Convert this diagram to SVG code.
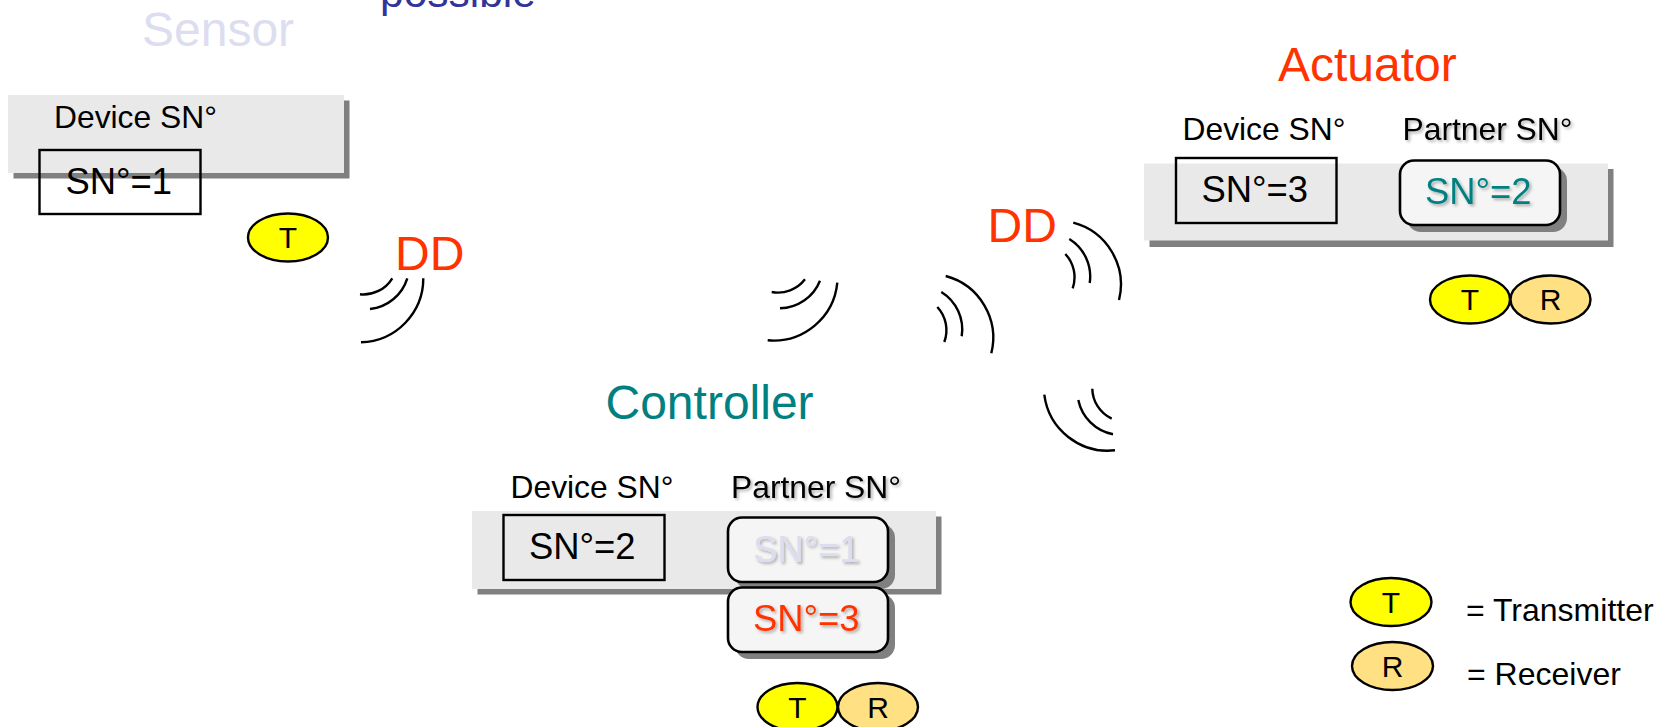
<svg xmlns="http://www.w3.org/2000/svg" width="1661" height="727" viewBox="0 0 1661 727">
<style>
text{font-family:"Liberation Sans",Arial,sans-serif;fill:#000}
.title{font-size:48px}
.lab{font-size:31.8px}
.sn{font-size:36.4px}
.io{font-size:30px;text-anchor:middle}
.leg{font-size:32px}
.soft{filter:url(#ts)}
.shadow{fill:#808080}
.panel{fill:#e9e9e9}
.box{fill:none;stroke:#000;stroke-width:2.4}
.rbox{fill:#f5f5f5;stroke:#000;stroke-width:2.6}
.t{fill:#ff0;stroke:#000;stroke-width:2.4}
.r{fill:#ffe082;stroke:#000;stroke-width:2.4}
.wave{fill:none;stroke:#000;stroke-width:2.4}
.orange{fill:#ff3300}
.teal{fill:#008080}
.pale{fill:#ddddf0}
</style>
<defs>
<filter id="ts" x="-10%" y="-20%" width="125%" height="150%"><feDropShadow dx="2" dy="2" stdDeviation="1.5" flood-color="#000" flood-opacity="0.3"/></filter>
</defs>
<rect width="1661" height="727" fill="#fff"/>
<text x="380" y="7" style="font-size:42.500px;fill:#333399">possible</text>

<g id="sensor">
<text class="title pale" x="142" y="45.500">Sensor</text>
<rect class="shadow" x="13.500" y="100.500" width="336" height="78"/>
<rect class="panel" x="8" y="95" width="336" height="78"/>
<text class="lab" x="54" y="128">Device SN°</text>
<rect class="box" x="39.500" y="150" width="161" height="64"/>
<text class="sn" x="65.500" y="193.500">SN°=1</text>
</g>
<g id="sensor-t"><ellipse class="t" cx="288" cy="237.500" rx="40" ry="24"/><text class="io" x="288" y="247.500">T</text></g>

<g id="controller">
<text class="title teal" x="605.500" y="419">Controller</text>
<text class="lab" x="510.500" y="497.500">Device SN°</text>
<text class="lab soft" x="731" y="497.500">Partner SN°</text>
<rect class="shadow" x="477.500" y="516.500" width="464" height="78"/>
<rect class="panel" x="472" y="511" width="464" height="78"/>
<rect class="box" x="503.500" y="515" width="161" height="65"/>
<text class="sn" x="529" y="559">SN°=2</text>
<rect class="shadow" x="735" y="524" width="160" height="65" rx="14"/>
<rect class="rbox" x="728" y="517.500" width="160" height="64.500" rx="14"/>
<text class="sn pale soft" x="753" y="562">SN°=1</text>
<rect class="shadow" x="735" y="594" width="160" height="65" rx="14"/>
<rect class="rbox" x="728" y="587.500" width="160" height="64.500" rx="14"/>
<text class="sn orange soft" x="753" y="631">SN°=3</text>
</g>
<g id="controller-t"><ellipse class="t" cx="797.500" cy="707" rx="40" ry="24"/><text class="io" x="797.500" y="717.500">T</text></g>
<g id="controller-r"><ellipse class="r" cx="878" cy="707" rx="40" ry="24"/><text class="io" x="878" y="717.500">R</text></g>

<g id="actuator">
<text class="title orange" x="1278" y="81">Actuator</text>
<text class="lab" x="1182.500" y="139.500">Device SN°</text>
<text class="lab soft" x="1402.500" y="139.500">Partner SN°</text>
<rect class="shadow" x="1149.500" y="169" width="464" height="78"/>
<rect class="panel" x="1144" y="163.500" width="464" height="77"/>
<rect class="box" x="1176" y="158" width="160.500" height="65"/>
<text class="sn" x="1201.500" y="202">SN°=3</text>
<rect class="shadow" x="1407" y="167" width="160" height="65" rx="14"/>
<rect class="rbox" x="1400" y="160.500" width="160" height="64.500" rx="14"/>
<text class="sn teal soft" x="1425" y="204">SN°=2</text>
</g>
<g id="actuator-t"><ellipse class="t" cx="1470" cy="299.500" rx="40" ry="24"/><text class="io" x="1470" y="309.500">T</text></g>
<g id="actuator-r"><ellipse class="r" cx="1550.500" cy="299.500" rx="40" ry="24"/><text class="io" x="1550.500" y="309.500">R</text></g>

<g id="connectors">
<path class="wave" d="M423.300 278.300A64 64 0 0 1 361 342.300M407.300 278.300A44 44 0 0 1 370 309M392.300 278.300A34 34 0 0 1 360 294.300"/>
<path class="wave" d="M837.300 282.700A64 64 0 0 1 767.700 340.300M820 280.700A44 44 0 0 1 780 308.300M805 279.300A34 34 0 0 1 771.700 292"/>
<path class="wave" d="M945.700 276A64 64 0 0 1 991.300 353.300M941.300 292A44 44 0 0 1 961.700 336.300M937.300 307A34 34 0 0 1 944.300 342"/>
<path class="wave" d="M1073.300 222.700A64 64 0 0 1 1119 300M1069.300 239A44 44 0 0 1 1089.700 283M1065.300 254A34 34 0 0 1 1072.700 288.300"/>
<path class="wave" d="M1044.300 394.700A64 64 0 0 0 1115 450.300M1078.300 400A44 44 0 0 0 1113 434.300M1092.300 388.700A34 34 0 0 0 1111.700 418.700"/>
</g>

<g id="dd-1"><text class="title orange" x="395" y="270">DD</text></g>
<g id="dd-2"><text class="title orange" x="987.500" y="241.500">DD</text></g>

<g id="legend-t"><ellipse class="t" cx="1391" cy="602" rx="40.500" ry="24"/><text class="io" x="1391" y="612.500">T</text><text class="leg" x="1466" y="620.500">= Transmitter</text></g>
<g id="legend-r"><ellipse class="r" cx="1392.500" cy="666" rx="40.500" ry="24"/><text class="io" x="1392.500" y="676.500">R</text><text class="leg" x="1467" y="685">= Receiver</text></g>
</svg>
